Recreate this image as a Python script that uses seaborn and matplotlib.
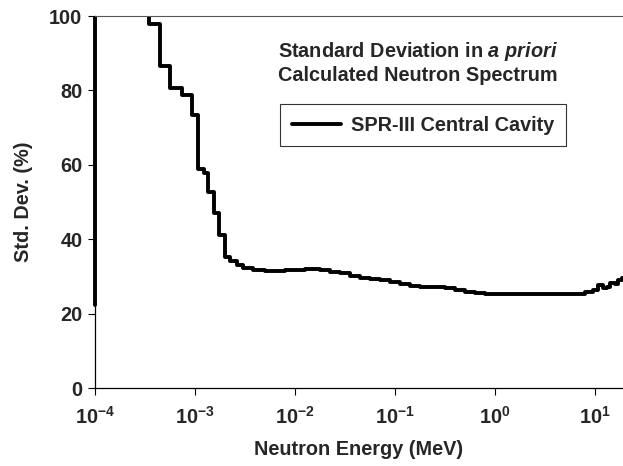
import numpy as np
import pandas as pd
import matplotlib
matplotlib.use("Agg")
import matplotlib.pyplot as plt
from matplotlib.transforms import Bbox, TransformedBbox
import seaborn as sns

# ---- data ----
energy_mev = [
    1.0e-4, 1.0e-4, 3.47e-4, 4.47e-4, 5.62e-4, 7.36e-4, 9.4e-4, 1.08e-3, 1.23e-3,
    1.36e-3, 1.55e-3, 1.75e-3, 1.98e-3, 2.24e-3, 2.61e-3, 3.0e-3, 3.83e-3,
    5.0e-3, 6.3e-3, 7.9e-3, 1.0e-2, 1.26e-2, 1.41e-2, 1.78e-2, 2.24e-2,
    2.82e-2, 3.55e-2, 4.47e-2, 5.62e-2, 7.08e-2, 8.91e-2, 1.12e-1, 1.41e-1,
    1.78e-1, 2.51e-1, 3.16e-1, 3.98e-1, 5.01e-1, 6.31e-1, 7.94e-1, 1.26,
    2.51, 5.01, 7.94, 9.55, 10.7, 12.0, 13.2, 14.1, 15.8, 17.0, 18.6, 20.0,
]
std_dev_pct = [
    22.3, 200.0, 97.8, 86.6, 80.6, 78.8, 73.4, 58.8, 57.7,
    52.8, 47.0, 41.1, 35.1, 34.2, 33.1, 32.2, 31.7,
    31.5, 31.5, 31.6, 31.8, 32.0, 31.9, 31.6, 31.3,
    30.8, 30.2, 29.7, 29.3, 28.9, 28.4, 27.9, 27.5,
    27.2, 27.1, 26.8, 26.3, 25.9, 25.6, 25.4, 25.3,
    25.3, 25.4, 25.7, 26.3, 27.6, 26.9, 27.2, 28.3, 28.0, 29.1, 29.6, 29.6,
]

legend_label = "SPR-III Central Cavity"
x_ticks = [1e-4, 1e-3, 1e-2, 1e-1, 1e0, 1e1]
x_ticklabels = [r"$\mathbf{10^{-4}}$", r"$\mathbf{10^{-3}}$", r"$\mathbf{10^{-2}}$",
                r"$\mathbf{10^{-1}}$", r"$\mathbf{10^{0}}$", r"$\mathbf{10^{1}}$"]
y_ticks = [0, 20, 40, 60, 80, 100]

df = pd.DataFrame({"energy": energy_mev, "std": std_dev_pct, "series": legend_label})

sns.set_theme(style="white")
plt.rcParams["font.family"] = ["Liberation Sans", "DejaVu Sans"]
plt.rcParams["font.weight"] = "bold"
plt.rcParams["mathtext.fontset"] = "custom"
plt.rcParams["mathtext.bf"] = "Liberation Sans:bold"
plt.rcParams["mathtext.rm"] = "Liberation Sans:bold"
plt.rcParams["mathtext.it"] = "Liberation Sans:bold:italic"

FS = 14.3

fig = plt.figure(figsize=(6.23, 4.66), dpi=100)
ax = fig.add_axes([95 / 623, 1 - 388 / 466, 528 / 623, 372 / 466])

sns.lineplot(data=df, x="energy", y="std", hue="series", palette=["black"],
             estimator=None, sort=False, drawstyle="steps-post",
             linewidth=2.8, ax=ax, legend=True)

ax.set_xscale("log")
ax.set_xlim(1e-4, 19.0)
ax.set_ylim(0, 100)
ax.minorticks_off()
ax.set_xticks(x_ticks)
ax.set_xticklabels(x_ticklabels, fontsize=FS)
ax.set_yticks(y_ticks)
ax.set_yticklabels([str(v) for v in y_ticks], fontsize=FS, fontweight="bold")
ax.tick_params(axis="both", direction="out", length=5, width=0.8, color="black",
               bottom=True, left=True, pad=4)
ax.tick_params(axis="x", pad=8)

# let the thick line at the left edge show in full (not half-clipped by the axes box)
for ln in ax.lines:
    ln.set_clip_box(TransformedBbox(Bbox([[-0.02, 0.0], [1.0, 1.0]]), ax.transAxes))

for side in ["left", "bottom"]:
    ax.spines[side].set_color("black")
    ax.spines[side].set_linewidth(0.9)
ax.spines["top"].set_color("#555555")
ax.spines["top"].set_linewidth(0.8)
ax.spines["right"].set_visible(False)

ax.set_xlabel("Neutron Energy (MeV)", fontsize=FS, fontweight="bold", labelpad=9)
ax.set_ylabel("Std. Dev. (%)", fontsize=FS, fontweight="bold", labelpad=12)

ax.text(0.612, 0.875, "Standard Deviation in $\\it{a\\ priori}$\nCalculated Neutron Spectrum",
        transform=ax.transAxes, ha="center", va="center", fontsize=FS,
        fontweight="bold", linespacing=1.2)

leg = ax.legend(loc="upper left", bbox_to_anchor=((280 - 95) / 528, (388 - 104) / 372),
                frameon=True, fancybox=False, edgecolor="black",
                handlelength=2.5, borderpad=0.58, handletextpad=0.5,
                borderaxespad=0.0,
                prop={"weight": "bold", "size": FS})
leg.get_frame().set_linewidth(0.8)
for line in leg.get_lines():
    line.set_linewidth(2.8)

fig.savefig("out.png", dpi=100)
